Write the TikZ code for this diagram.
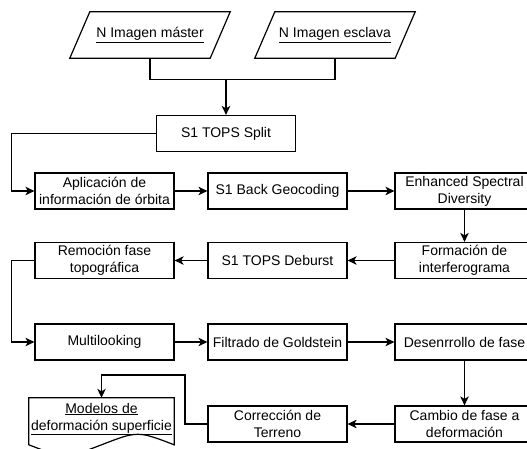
\documentclass[tikz,border=0pt]{standalone}
\usepackage{fontspec}
\setmainfont{Liberation Sans}
\usetikzlibrary{arrows.meta,positioning,calc}

\begin{document}
\begin{tikzpicture}[
  x=1pt, y=-1pt,
  font=\fontsize{14}{17}\selectfont,
  box/.style={draw, line width=1.2pt, minimum width=139pt, minimum height=36pt, inner sep=1pt, align=center},
  inp/.style={minimum width=140pt, minimum height=46pt, inner sep=1pt},
  ar/.style={-{Stealth[length=9pt,width=8.5pt,inset=2.5pt]}, line width=1.2pt},
  ln/.style={line width=1.2pt},
]
\useasboundingbox (0,0) rectangle (527,449);

% ---------- inputs ----------
\node[inp] (master) at (150,35)  {\underline{N Imagen máster}};
\node[inp] (slave)  at (335,35)  {\underline{N Imagen esclava}};
\foreach \n in {master,slave}
  \draw[ln] ($(\n.south west)+(-10,0)$) -- ($(\n.north west)+(10,0)$)
            -- ($(\n.north east)+(10,0)$) -- ($(\n.south east)+(-10,0)$) -- cycle;
\node[box] (split)  at (226,133.5) {S1 TOPS Split};
\coordinate (join) at ($(split.north)+(0,-35)$);
\draw[ln] (master.south) |- (join) -| (slave.south);
\draw[ar] (join) -- (split.north);

% ---------- row 1 ----------
\node[box] (orb) at (104.5,191) {Aplicación de\\información de órbita};
\node[box] (geo) at (277.5,191) {S1 Back Geocoding};
\node[box] (esd) at (464.5,191) {Enhanced Spectral\\Diversity};
\draw[ar] (split.west) -| ([xshift=-23pt]orb.west) -- (orb.west);
\draw[ar] (orb) -- (geo);
\draw[ar] (geo) -- (esd);

% ---------- row 2 ----------
\node[box] (ifg) at (464.5,260.5) {Formación de\\interferograma};
\node[box] (deb) at (277.5,260.5) {S1 TOPS Deburst};
\node[box] (topo) at (104.5,260.5) {Remoción fase\\topográfica};
\draw[ar] (esd) -- (ifg);
\draw[ar] (ifg) -- (deb);
\draw[ar] (deb) -- (topo);

% ---------- row 3 ----------
\node[box] (mlk)  at (104.5,342) {Multilooking};
\node[box] (gold) at (277.5,342) {Filtrado de Goldstein};
\node[box] (unw)  at (464.5,342) {Desenrrollo de fase};
\draw[ar] (topo.west) -| ([xshift=-23pt]mlk.west) -- (mlk.west);
\draw[ar] (mlk) -- (gold);
\draw[ar] (gold) -- (unw);

% ---------- row 4 ----------
\node[box] (defo) at (464.5,424) {Cambio de fase a\\deformación};
\node[box] (terr) at (277.5,424) {Corrección de\\Terreno};
\node[minimum width=145pt, minimum height=42pt, inner sep=1pt, align=center] (mod) at (101.5,419)
  {\underline{Modelos de}\\\underline{deformación superficie}};
\draw[ln] (mod.north west) -- (mod.north east) -- ++(0,47)
  .. controls ($(mod.north)+(36.25,33)$) .. ($(mod.north)+(0,47)$)
  .. controls ($(mod.north)+(-36.25,61)$) .. ($(mod.north west)+(0,47)$) -- cycle;
\draw[ar] (unw) -- (defo);
\draw[ar] (defo) -- (terr);
\coordinate (bend) at (185,375);
\draw[ar] (terr.west) -| (bend) -| (mod.north);
\end{tikzpicture}
\end{document}
